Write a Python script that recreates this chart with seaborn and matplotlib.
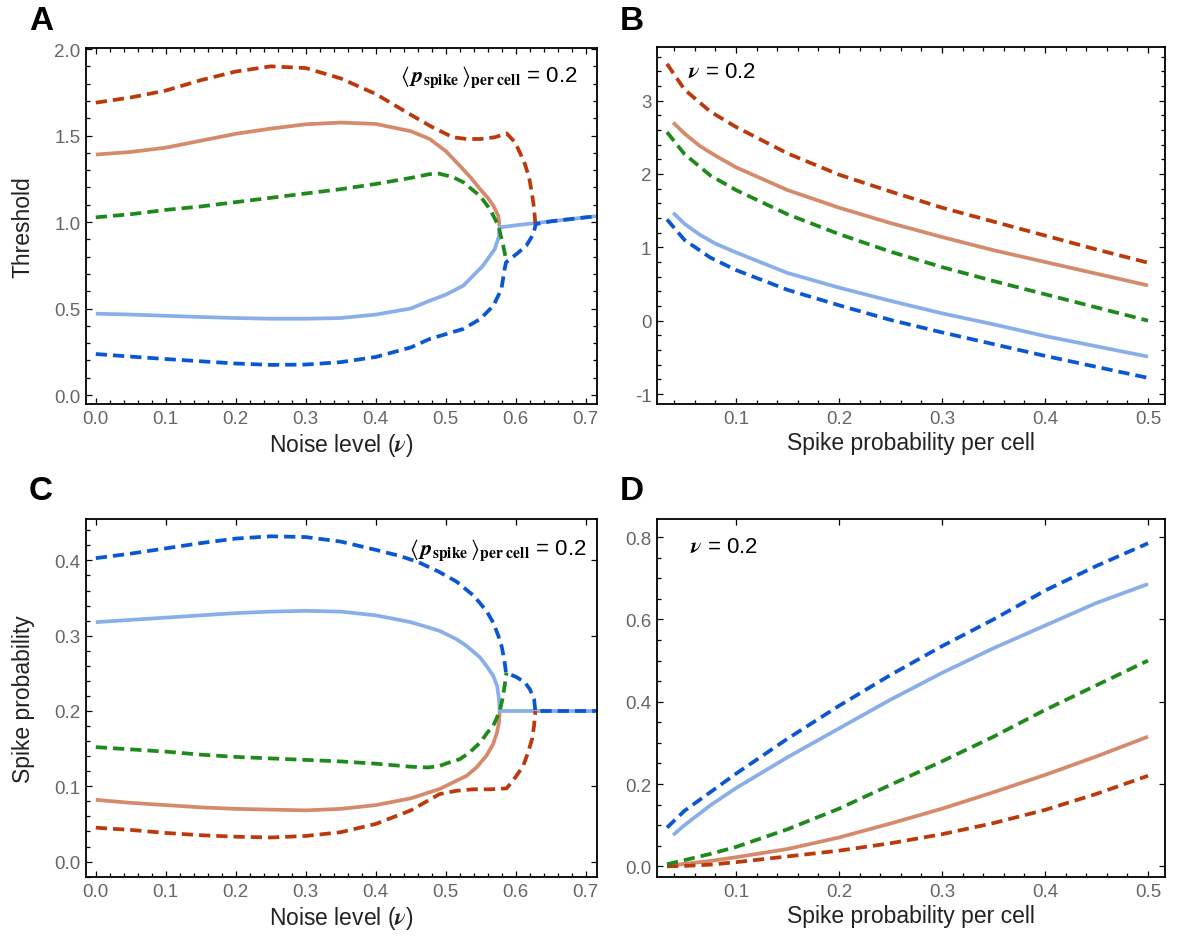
import numpy as np
import pandas as pd
import matplotlib
matplotlib.use("Agg")
import matplotlib.pyplot as plt
from matplotlib.ticker import MultipleLocator, FormatStrFormatter
import seaborn as sns

# ---------------- data ----------------
# Panel A: threshold vs noise level
nuA_red = [0.0, 0.05, 0.1, 0.15, 0.2, 0.25, 0.3, 0.35, 0.4, 0.45, 0.48, 0.51, 0.53, 0.55, 0.57, 0.587,
           0.599, 0.606, 0.613, 0.619, 0.622, 0.625, 0.627, 0.628]
thA_red = [1.69, 1.72, 1.76, 1.82, 1.87, 1.90, 1.89, 1.83, 1.74, 1.62, 1.55, 1.49, 1.48, 1.48, 1.49, 1.512,
           1.46, 1.40, 1.335, 1.258, 1.19, 1.113, 1.036, 0.988]
nuA_sal = [0.0, 0.05, 0.1, 0.15, 0.2, 0.25, 0.3, 0.35, 0.4, 0.45, 0.477, 0.5, 0.52, 0.535, 0.549, 0.56,
           0.568, 0.575, 0.577]
thA_sal = [1.39, 1.405, 1.43, 1.47, 1.51, 1.54, 1.565, 1.575, 1.567, 1.525, 1.48, 1.41, 1.325, 1.26, 1.19,
           1.14, 1.094, 1.036, 0.969]
nuA_grn = [0.0, 0.05, 0.1, 0.15, 0.2, 0.25, 0.3, 0.35, 0.4, 0.45, 0.477, 0.49, 0.51, 0.525, 0.549, 0.563,
           0.575, 0.582, 0.586]
thA_grn = [1.027, 1.045, 1.07, 1.09, 1.115, 1.14, 1.165, 1.19, 1.22, 1.255, 1.277, 1.28, 1.26, 1.23, 1.15,
           1.075, 0.98, 0.863, 0.786]
nuA_lbl = [0.0, 0.05, 0.1, 0.15, 0.2, 0.25, 0.3, 0.35, 0.4, 0.45, 0.477, 0.5, 0.525, 0.553, 0.57, 0.576,
           0.577, 0.6, 0.65, 0.7, 0.716]
thA_lbl = [0.47, 0.465, 0.458, 0.451, 0.445, 0.441, 0.441, 0.445, 0.465, 0.50, 0.545, 0.58, 0.632, 0.747,
           0.844, 0.92, 0.969, 0.981, 1.004, 1.027, 1.034]
nuA_blu = [0.0, 0.05, 0.1, 0.15, 0.2, 0.25, 0.3, 0.35, 0.4, 0.45, 0.477, 0.525, 0.549, 0.568, 0.5795, 0.584,
           0.586, 0.601, 0.615, 0.625, 0.6286, 0.65, 0.7, 0.716]
thA_blu = [0.237, 0.222, 0.208, 0.195, 0.182, 0.174, 0.176, 0.19, 0.22, 0.275, 0.324, 0.382, 0.439, 0.516,
           0.613, 0.728, 0.767, 0.815, 0.863, 0.93, 0.988, 1.004, 1.027, 1.034]

# Panel B: threshold vs spike probability per cell (nu = 0.2)
pB_dash = [0.033, 0.05, 0.075, 0.1, 0.15, 0.2, 0.25, 0.3, 0.35, 0.4, 0.45, 0.5]
pB_solid = [0.039, 0.05, 0.065, 0.08, 0.1, 0.15, 0.2, 0.25, 0.3, 0.35, 0.4, 0.45, 0.5]
thB_red = [3.50, 3.15, 2.85, 2.64, 2.28, 1.99, 1.76, 1.54, 1.35, 1.16, 0.97, 0.79]
thB_sal = [2.70, 2.55, 2.38, 2.25, 2.09, 1.78, 1.54, 1.33, 1.14, 0.96, 0.80, 0.64, 0.48]
thB_grn = [2.57, 2.27, 1.98, 1.78, 1.45, 1.18, 0.94, 0.73, 0.54, 0.36, 0.18, 0.0]
thB_lbl = [1.47, 1.32, 1.17, 1.05, 0.93, 0.65, 0.45, 0.27, 0.10, -0.05, -0.21, -0.35, -0.49]
thB_blu = [1.38, 1.10, 0.86, 0.69, 0.42, 0.21, 0.01, -0.16, -0.32, -0.48, -0.63, -0.78]

# Panel C: spike probability vs noise level
nuC_blu = [0.0, 0.05, 0.1, 0.15, 0.2, 0.25, 0.3, 0.35, 0.4, 0.434, 0.46, 0.49, 0.515, 0.54, 0.558, 0.568,
           0.575, 0.58, 0.584, 0.586, 0.601, 0.613, 0.62, 0.626, 0.628, 0.65, 0.7, 0.716]
spC_blu = [0.403, 0.409, 0.416, 0.423, 0.429, 0.432, 0.431, 0.425, 0.414, 0.406, 0.398, 0.385, 0.372, 0.353,
           0.333, 0.317, 0.30, 0.285, 0.265, 0.251, 0.245, 0.238, 0.229, 0.216, 0.20, 0.20, 0.20, 0.20]
nuC_lbl = [0.0, 0.05, 0.1, 0.15, 0.2, 0.25, 0.3, 0.35, 0.4, 0.45, 0.491, 0.515, 0.5295, 0.549, 0.558,
           0.5676, 0.5733, 0.576, 0.577, 0.6, 0.65, 0.7, 0.716]
spC_lbl = [0.318, 0.321, 0.324, 0.327, 0.33, 0.332, 0.333, 0.332, 0.327, 0.318, 0.3065, 0.2955, 0.2866,
           0.271, 0.26, 0.247, 0.2335, 0.216, 0.20, 0.20, 0.20, 0.20, 0.20]
nuC_grn = [0.0, 0.05, 0.1, 0.15, 0.2, 0.25, 0.3, 0.35, 0.4, 0.45, 0.475, 0.491, 0.506, 0.52, 0.534, 0.549,
           0.56, 0.5676, 0.572, 0.577, 0.581, 0.584, 0.5867]
spC_grn = [0.152, 0.149, 0.146, 0.142, 0.139, 0.137, 0.135, 0.133, 0.13, 0.126, 0.125, 0.127, 0.132, 0.136,
           0.145, 0.158, 0.172, 0.18, 0.189, 0.20, 0.216, 0.233, 0.251]
nuC_sal = [0.0, 0.05, 0.1, 0.15, 0.2, 0.25, 0.3, 0.35, 0.4, 0.45, 0.491, 0.51, 0.53, 0.5438, 0.558, 0.5676,
           0.573, 0.576, 0.577]
spC_sal = [0.082, 0.078, 0.075, 0.072, 0.07, 0.069, 0.068, 0.07, 0.075, 0.084, 0.0963, 0.105, 0.114, 0.125,
           0.1405, 0.156, 0.171, 0.185, 0.20]
nuC_red = [0.0, 0.05, 0.1, 0.15, 0.2, 0.25, 0.3, 0.35, 0.4, 0.45, 0.491, 0.515, 0.539, 0.563, 0.5867,
           0.5938, 0.601, 0.6105, 0.6176, 0.6233, 0.626, 0.628]
spC_red = [0.045, 0.042, 0.038, 0.035, 0.033, 0.032, 0.034, 0.039, 0.05, 0.068, 0.0896, 0.094, 0.096, 0.096,
           0.0972, 0.105, 0.114, 0.127, 0.145, 0.163, 0.18, 0.20]

# Panel D: spike probability vs spike probability per cell (nu = 0.2)
pD_dash = [0.033, 0.05, 0.075, 0.1, 0.15, 0.2, 0.25, 0.3, 0.35, 0.4, 0.45, 0.5]
pD_solid = [0.039, 0.05, 0.075, 0.1, 0.15, 0.2, 0.25, 0.3, 0.35, 0.4, 0.45, 0.5]
spD_blu = [0.094, 0.135, 0.18, 0.225, 0.31, 0.39, 0.465, 0.535, 0.60, 0.67, 0.73, 0.785]
spD_lbl = [0.076, 0.10, 0.148, 0.19, 0.265, 0.335, 0.405, 0.47, 0.53, 0.585, 0.64, 0.686]
spD_grn = [0.005, 0.015, 0.03, 0.047, 0.09, 0.14, 0.198, 0.255, 0.315, 0.38, 0.44, 0.50]
spD_sal = [0.002, 0.006, 0.013, 0.022, 0.042, 0.07, 0.104, 0.14, 0.18, 0.222, 0.267, 0.315]
spD_red = [0.0, 0.001, 0.004, 0.01, 0.024, 0.038, 0.056, 0.078, 0.105, 0.137, 0.176, 0.22]

xticksA = [0.0, 0.1, 0.2, 0.3, 0.4, 0.5, 0.6, 0.7]
xticksB = [0.1, 0.2, 0.3, 0.4, 0.5]

# ---------------- style ----------------
RED = "#BB3A0B"
SAL = "#D58A6C"
GRN = "#1F8A1C"
LBL = "#8AAFE8"
BLU = "#0A57D4"
LW = 2.7
DASH = (3.0, 1.6)

sns.set_theme(style="ticks")
plt.rcParams["font.family"] = ["Liberation Sans", "DejaVu Sans"]
plt.rcParams["mathtext.fontset"] = "stix"
plt.rcParams["axes.unicode_minus"] = False

fig = plt.figure(figsize=(11.82, 9.53), dpi=100)

def pos(l, t, r, b):
    W, H = 1182.0, 953.0
    return [l / W, 1 - b / H, (r - l) / W, (b - t) / H]

axA = fig.add_axes(pos(86, 49, 597, 405))
axB = fig.add_axes(pos(657, 48, 1165, 405))
axC = fig.add_axes(pos(86, 520, 597, 878))
axD = fig.add_axes(pos(657, 520, 1165, 878))

def draw(ax, x, y, color, dashed):
    df = pd.DataFrame({"x": x, "y": y})
    sns.lineplot(data=df, x="x", y="y", ax=ax, color=color, linewidth=LW, sort=False,
                 estimator=None)
    ln = ax.lines[-1]
    ln.set_solid_capstyle("butt")
    ln.set_solid_joinstyle("round")
    if dashed:
        ln.set_dashes(DASH)
        ln.set_dash_capstyle("butt")

# Panel A
draw(axA, nuA_sal, thA_sal, SAL, False)
draw(axA, nuA_lbl, thA_lbl, LBL, False)
draw(axA, nuA_red, thA_red, RED, True)
draw(axA, nuA_grn, thA_grn, GRN, True)
draw(axA, nuA_blu, thA_blu, BLU, True)

# Panel B
draw(axB, pB_solid, thB_sal, SAL, False)
draw(axB, pB_solid, thB_lbl, LBL, False)
draw(axB, pB_dash, thB_red, RED, True)
draw(axB, pB_dash, thB_grn, GRN, True)
draw(axB, pB_dash, thB_blu, BLU, True)

# Panel C
draw(axC, nuC_sal, spC_sal, SAL, False)
draw(axC, nuC_lbl, spC_lbl, LBL, False)
draw(axC, nuC_red, spC_red, RED, True)
draw(axC, nuC_grn, spC_grn, GRN, True)
draw(axC, nuC_blu, spC_blu, BLU, True)

# Panel D
draw(axD, pD_solid, spD_sal, SAL, False)
draw(axD, pD_solid, spD_lbl, LBL, False)
draw(axD, pD_dash, spD_red, RED, True)
draw(axD, pD_dash, spD_grn, GRN, True)
draw(axD, pD_dash, spD_blu, BLU, True)

# axes limits / ticks
axA.set_xlim(-0.014, 0.716); axA.set_ylim(-0.052, 2.006)
axB.set_xlim(0.0233, 0.5165); axB.set_ylim(-1.136, 3.73)
axC.set_xlim(-0.014, 0.716); axC.set_ylim(-0.0205, 0.455)
axD.set_xlim(0.0233, 0.5165); axD.set_ylim(-0.026, 0.844)

axA.set_xticks(xticksA); axC.set_xticks(xticksA)
axB.set_xticks(xticksB); axD.set_xticks(xticksB)
for ax in (axA, axB, axC, axD):
    ax.xaxis.set_minor_locator(MultipleLocator(0.02))
    ax.xaxis.set_major_formatter(FormatStrFormatter("%.1f"))
axA.yaxis.set_major_locator(MultipleLocator(0.5)); axA.yaxis.set_minor_locator(MultipleLocator(0.1))
axA.yaxis.set_major_formatter(FormatStrFormatter("%.1f"))
axB.yaxis.set_major_locator(MultipleLocator(1)); axB.yaxis.set_minor_locator(MultipleLocator(0.2))
axB.yaxis.set_major_formatter(FormatStrFormatter("%d"))
axC.yaxis.set_major_locator(MultipleLocator(0.1)); axC.yaxis.set_minor_locator(MultipleLocator(0.02))
axC.yaxis.set_major_formatter(FormatStrFormatter("%.1f"))
axD.yaxis.set_major_locator(MultipleLocator(0.2)); axD.yaxis.set_minor_locator(MultipleLocator(0.05))
axD.yaxis.set_major_formatter(FormatStrFormatter("%.1f"))

for ax in (axA, axB, axC, axD):
    ax.set_xlabel(""); ax.set_ylabel("")
    for s in ax.spines.values():
        s.set_visible(True)
        s.set_color("black")
        s.set_linewidth(1.3)
    ax.tick_params(which="both", direction="in", top=True, right=True, color="black",
                   labelcolor="#666666", labelsize=13.5, width=0.9)
    ax.tick_params(which="major", length=4.5, pad=4)
    ax.tick_params(which="minor", length=2.6)
for ax in (axC, axD):
    ax.tick_params(which="minor", top=False, right=False)

LAB = dict(fontsize=16.5, color="#222222")
axA.set_xlabel(r"Noise level ($\mathbfit{\nu}$)", **LAB)
axC.set_xlabel(r"Noise level ($\mathbfit{\nu}$)", **LAB)
axB.set_xlabel("Spike probability per cell", **LAB)
axD.set_xlabel("Spike probability per cell", **LAB)
axA.set_ylabel("Threshold", **LAB)
axC.set_ylabel("Spike probability", **LAB)
for ax in (axA, axB):
    ax.xaxis.set_label_coords(0.5, -0.077)
for ax in (axC, axD):
    ax.xaxis.set_label_coords(0.5, -0.076)
axA.yaxis.set_label_coords(-0.1, 0.5)
axC.yaxis.set_label_coords(-0.1, 0.5)

ann = r"$\langle\,\mathbfit{p}_{\mathbf{spike}}\,\rangle_{\mathbf{per\ cell}}$ = 0.2"
axA.text(0.961, 0.921, ann, transform=axA.transAxes, ha="right", va="center", fontsize=16, color="black")
axC.text(0.98, 0.916, ann, transform=axC.transAxes, ha="right", va="center", fontsize=16, color="black")
nuann = r"$\mathbfit{\nu}$ = 0.2"
axB.text(0.061, 0.93, nuann, transform=axB.transAxes, ha="left", va="center", fontsize=16, color="black")
axD.text(0.065, 0.924, nuann, transform=axD.transAxes, ha="left", va="center", fontsize=16, color="black")

for lab, x, y in (("A", 41, 21), ("B", 632, 21), ("C", 41, 492), ("D", 632, 492)):
    fig.text(x / 1182, 1 - y / 953, lab, ha="center", va="center", fontsize=24, fontweight="bold",
             color="black")

fig.savefig("out.png", dpi=100)
